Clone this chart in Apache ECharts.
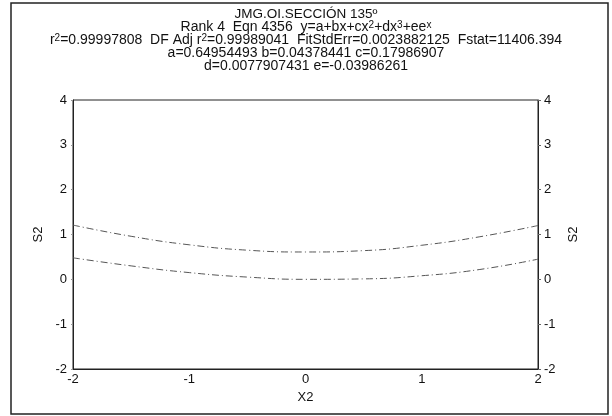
<!DOCTYPE html>
<html>
<head>
<meta charset="utf-8">
<script src="https://cdn.jsdelivr.net/npm/echarts@6/dist/echarts.min.js"></script>
<style>
  html, body { margin: 0; padding: 0; background: #fff; }
  #chart { width: 612px; height: 416px; }
</style>
</head>
<body>
<div id="chart"></div>
<script>
// values
const xValues = [-2, -1.5, -1, -0.5, 0, 0.5, 1, 1.5, 2]
const upperCurve = [1.21, 0.96, 0.77, 0.65, 0.61, 0.64, 0.76, 0.95, 1.2]
const lowerCurve = [0.48, 0.3, 0.15, 0.05, 0.0, 0.01, 0.08, 0.22, 0.45]
const xTicks = [-2, -1, 0, 1, 2]
const yTicks = [-2, -1, 0, 1, 2, 3, 4]

const pairs = (ys) => xValues.map((x, i) => [x, ys[i]])

const font = 'Liberation Sans, Arial, sans-serif'
const sup = { fontSize: 10, verticalAlign: 'top', padding: [0, 0, 6, 0], fontFamily: font, color: '#111' }
const base = { fontSize: 13, fontFamily: font, color: '#111' }

const titleLines = [
  'JMG.OI.SECCIÓN 135º',
  'Rank 4  Eqn 4356  y=a+bx+cx{s|2}+dx{s|3}+ee{s|x}',
  'r{s|2}=0.99997808  DF Adj r{s|2}=0.99989041  FitStdErr=0.0023882125  Fstat=11406.394',
  'a=0.64954493 b=0.04378441 c=0.17986907',
  'd=0.0077907431 e=-0.03986261'
]

const myChart = echarts.init(document.getElementById('chart'))
myChart.setOption({
  animation: false,
  title: titleLines.map((t, i) => ({
    text: t,
    left: 306,
    top: i === 0 ? 6 : 7 + i * 13,
    textAlign: 'center',
    padding: 0,
    z: 10,
    textStyle: {
      fontSize: i === 0 ? 13.5 : 14,
      fontFamily: font,
      color: '#111',
      fontWeight: 'normal',
      lineHeight: i === 0 ? 16 : 14,
      rich: { s: sup }
    }
  })),
  graphic: [
    {
      type: 'rect',
      z: 0,
      shape: { x: 11, y: 3, width: 597, height: 411 },
      style: { fill: 'none', stroke: '#222', lineWidth: 1.5 }
    }
  ],
  grid: {
    left: 73,
    right: 74,
    top: 100,
    bottom: 47,
    show: true,
    borderColor: '#222',
    borderWidth: 1
  },
  xAxis: {
    type: 'value',
    min: -2,
    max: 2,
    interval: 1,
    name: 'X2',
    nameLocation: 'middle',
    nameGap: 17,
    nameTextStyle: base,
    axisLine: { onZero: false, lineStyle: { color: '#222' } },
    axisTick: { show: false },
    axisLabel: { ...base, margin: 4, formatter: (v) => xTicks.includes(v) ? String(v) : '' },
    splitLine: { show: false }
  },
  yAxis: [
    {
      type: 'value',
      min: -2,
      max: 4,
      interval: 1,
      name: 'S2',
      nameLocation: 'middle',
      nameGap: 27,
      nameTextStyle: base,
      axisLine: { show: true, onZero: false, lineStyle: { color: '#222' } },
      axisTick: { show: true, length: 2, lineStyle: { color: '#999' } },
      axisLabel: { ...base, margin: 6, formatter: (v) => yTicks.includes(v) ? String(v) : '' },
      splitLine: { show: false }
    },
    {
      type: 'value',
      position: 'right',
      min: -2,
      max: 4,
      interval: 1,
      name: 'S2',
      nameLocation: 'middle',
      nameGap: 24,
      nameRotate: 90,
      nameTextStyle: base,
      axisLine: { show: true, onZero: false, lineStyle: { color: '#222' } },
      axisTick: { show: true, length: 3, lineStyle: { color: '#666' } },
      axisLabel: { ...base, margin: 6, formatter: (v) => yTicks.includes(v) ? String(v) : '' },
      splitLine: { show: false }
    }
  ],
  series: [
    {
      type: 'line',
      data: pairs(upperCurve),
      smooth: true,
      symbol: 'none',
      lineStyle: { color: '#555', width: 1, type: [7, 3, 1, 3] }
    },
    {
      type: 'line',
      data: pairs(lowerCurve),
      smooth: true,
      symbol: 'none',
      lineStyle: { color: '#555', width: 1, type: [7, 3, 1, 3] }
    }
  ]
})
</script>
</body>
</html>
